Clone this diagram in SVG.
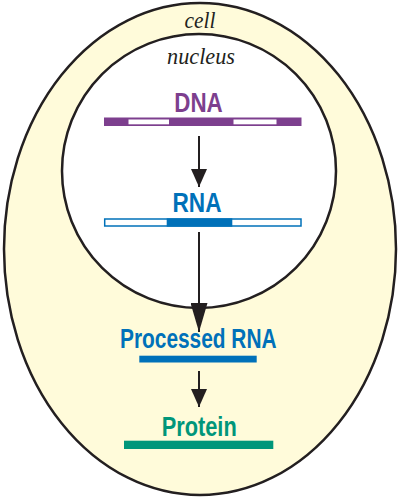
<svg xmlns="http://www.w3.org/2000/svg" width="400" height="498" viewBox="0 0 400 498">
<style>
.lbl{font-family:"Liberation Sans",Arial,sans-serif;font-weight:bold;font-size:27.5px;text-anchor:middle}
.it{font-family:"Liberation Serif","Times New Roman",serif;font-style:italic;text-anchor:middle;fill:#231f20}
.ln{stroke:#231f20;stroke-width:2;fill:none}
</style>
<defs>
<marker id="ah" markerUnits="userSpaceOnUse" markerWidth="18" markerHeight="16" refX="18" refY="8" orient="auto" viewBox="0 0 18 16">
<path d="M0,0 L18,8 L0,16 Z" fill="#231f20"/>
</marker>
<marker id="ah2" markerUnits="userSpaceOnUse" markerWidth="29" markerHeight="17" refX="29" refY="8.5" orient="auto" viewBox="0 0 29 17">
<path d="M0,0 L29,8.5 L0,17 Z" fill="#231f20"/>
</marker>
</defs>
<g id="cell">
<ellipse cx="200" cy="249" rx="196" ry="246" fill="#fffbda" stroke="#231f20" stroke-width="2.5"/>
<text class="it" x="200" y="28" font-size="24" textLength="31" lengthAdjust="spacingAndGlyphs">cell</text>
</g>
<g id="nucleus">
<circle cx="199" cy="171" r="137" fill="#ffffff" stroke="#231f20" stroke-width="2.5"/>
<text class="it" x="201" y="63.5" font-size="23" textLength="68" lengthAdjust="spacingAndGlyphs">nucleus</text>
</g>
<g id="connectors">
<line class="ln" x1="199" y1="136" x2="199" y2="187" marker-end="url(#ah)"/>
<line class="ln" x1="199" y1="232" x2="199" y2="332" marker-end="url(#ah2)"/>
<line class="ln" x1="199" y1="371" x2="199" y2="407" marker-end="url(#ah)"/>
</g>
<g id="dna">
<text class="lbl" x="198.5" y="111.5" fill="#7d3f8e" textLength="48.5" lengthAdjust="spacingAndGlyphs">DNA</text>
<rect x="104" y="117.5" width="197.5" height="8.5" fill="#7d3f8e"/>
<rect x="128.5" y="119.5" width="40.5" height="4.8" fill="#ffffff"/>
<rect x="233.5" y="119.5" width="43" height="4.8" fill="#ffffff"/>
</g>
<g id="rna">
<text class="lbl" x="197" y="211.5" fill="#0071b9" textLength="49" lengthAdjust="spacingAndGlyphs">RNA</text>
<rect x="104.7" y="219" width="196.3" height="7" fill="#ffffff" stroke="#0071b9" stroke-width="1.5"/>
<rect x="166.7" y="218.3" width="65.6" height="8.4" fill="#0071b9"/>
</g>
<g id="processed-rna">
<text class="lbl" x="198.3" y="348.3" fill="#0071b9" textLength="156.5" lengthAdjust="spacingAndGlyphs">Processed RNA</text>
<rect x="139.3" y="355.7" width="117.4" height="6.8" fill="#0071b9"/>
</g>
<g id="protein">
<text class="lbl" x="199.2" y="436" fill="#00967a" textLength="75" lengthAdjust="spacingAndGlyphs">Protein</text>
<rect x="124" y="440.7" width="149.3" height="8.3" fill="#00967a"/>
</g>
</svg>
